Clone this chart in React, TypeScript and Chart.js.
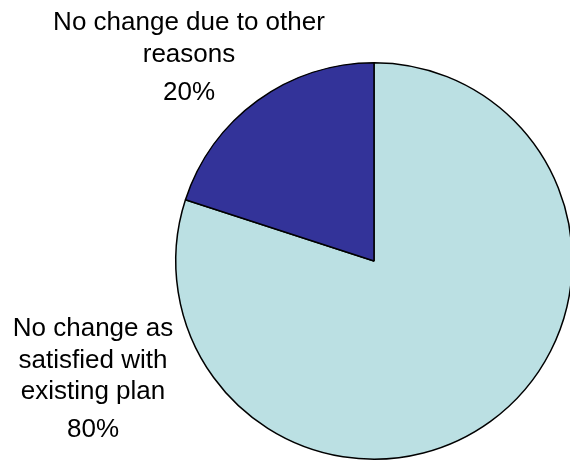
import React, { useEffect, useRef } from "react";
import { Chart, registerables } from "chart.js";

Chart.register(...registerables);

const categories: string[][] = [
  ["No change as", "satisfied with", "existing plan"],
  ["No change due to other", "reasons"],
];
const values: number[] = [80, 20];
const colors: string[] = ["#BBE0E3", "#333399"];

const FONT = '26px "Liberation Sans", Arial, sans-serif';

const labelPlugin = {
  id: "sliceLabels",
  afterDraw(chart: any) {
    const ctx = chart.ctx;
    const meta = chart.getDatasetMeta(0);
    const arc = meta.data[0];
    if (!arc) return;
    const cx = arc.x;
    const cy = arc.y;
    const total = values.reduce((a, b) => a + b, 0);
    const anchors = [
      { dx: -281, dy: 75 },
      { dx: -185, dy: -231 },
    ];
    ctx.save();
    ctx.font = FONT;
    ctx.fillStyle = "#000";
    ctx.textAlign = "center";
    ctx.textBaseline = "alphabetic";
    categories.forEach((lines, i) => {
      const a = anchors[i];
      const x = cx + a.dx;
      const y = cy + a.dy;
      lines.forEach((ln, j) => {
        ctx.fillText(ln, x, y + j * 31.5);
      });
      const pct = Math.round((values[i] / total) * 100) + "%";
      ctx.fillText(pct, x, y + (lines.length - 1) * 31.5 + 38);
    });
    ctx.restore();
  },
};

export default function App() {
  const ref = useRef<HTMLCanvasElement | null>(null);
  useEffect(() => {
    if (!ref.current) return;
    const chart = new Chart(ref.current, {
      type: "pie",
      data: {
        labels: categories.map((l) => l.join(" ")),
        datasets: [
          {
            data: values,
            backgroundColor: colors,
            borderColor: "#000",
            borderWidth: 1.5,
          },
        ],
      },
      options: {
        responsive: false,
        animation: false,
        layout: { padding: { left: 175, top: 62, right: 27, bottom: 20 } },
        plugins: {
          legend: { display: false },
          tooltip: { enabled: false },
        },
      },
      plugins: [labelPlugin],
    });
    return () => chart.destroy();
  }, []);
  return (
    <div
      style={{
        position: "absolute",
        left: 0,
        top: 0,
        width: 570,
        height: 460,
        overflow: "hidden",
        background: "#fff",
      }}
    >
      <canvas ref={ref} width={600} height={480} style={{ width: 600, height: 480, display: "block" }} />
    </div>
  );
}
